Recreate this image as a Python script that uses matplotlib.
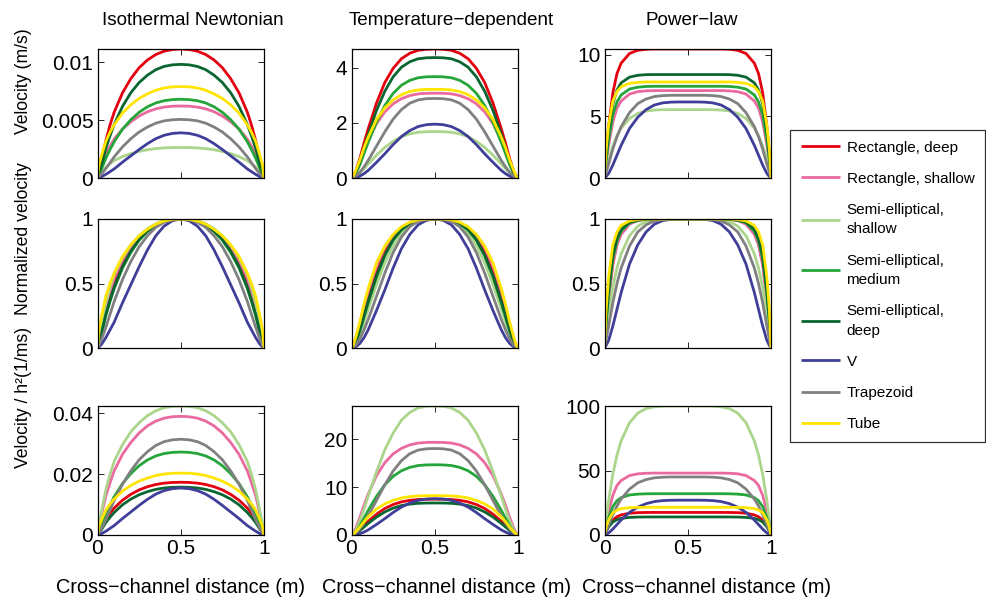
import numpy as np
import matplotlib
matplotlib.use("Agg")
import matplotlib.pyplot as plt

plt.rcParams['font.family'] = ['Liberation Sans', 'DejaVu Sans']

# channel shapes and line colours
shapes = ["Rectangle, deep", "Rectangle, shallow", "Semi-elliptical,\nshallow",
          "Semi-elliptical,\nmedium", "Semi-elliptical,\ndeep", "V", "Trapezoid", "Tube"]
colors = ["#e3000f", "#ea6a9f", "#acd58c", "#25a53a", "#0a6630", "#3f3e98", "#808080", "#ffe500"]

col_titles = ["Isothermal Newtonian", "Temperature\u2212dependent", "Power\u2212law"]
row_ylabels = ["Velocity (m/s)", "Normalized velocity", "Velocity / h\u00b2(1/ms)"]
xlabel = "Cross\u2212channel distance (m)"

# cross-channel positions, wall to centreline (profiles are symmetric)
x_half = [0, 0.01, 0.025, 0.05, 0.075, 0.1, 0.15, 0.2, 0.25, 0.3, 0.35, 0.4, 0.45, 0.5]

# normalized half-profiles, one row per shape
iso_shape = [
    [0, 0.06, 0.15, 0.29, 0.41, 0.51, 0.66, 0.77, 0.855, 0.915, 0.957, 0.983, 0.996, 1],
    [0, 0.08, 0.18, 0.33, 0.44, 0.54, 0.68, 0.78, 0.86, 0.92, 0.96, 0.985, 0.997, 1],
    [0, 0.09, 0.19, 0.35, 0.47, 0.57, 0.70, 0.80, 0.87, 0.925, 0.963, 0.987, 0.997, 1],
    [0, 0.05, 0.12, 0.25, 0.36, 0.46, 0.62, 0.74, 0.835, 0.905, 0.953, 0.982, 0.996, 1],
    [0, 0.05, 0.12, 0.26, 0.37, 0.47, 0.63, 0.75, 0.84, 0.905, 0.953, 0.982, 0.996, 1],
    [0, 0.01, 0.03, 0.08, 0.14, 0.20, 0.35, 0.49, 0.63, 0.76, 0.87, 0.945, 0.987, 1],
    [0, 0.025, 0.07, 0.16, 0.26, 0.36, 0.53, 0.67, 0.785, 0.87, 0.935, 0.975, 0.994, 1],
    [0, 0.15, 0.25, 0.40, 0.50, 0.58, 0.71, 0.80, 0.87, 0.92, 0.96, 0.985, 0.997, 1],
]
temp_shape = [
    [0, 0.015, 0.05, 0.15, 0.27, 0.38, 0.58, 0.74, 0.85, 0.925, 0.967, 0.99, 0.998, 1],
    [0, 0.02, 0.07, 0.19, 0.32, 0.44, 0.64, 0.78, 0.875, 0.935, 0.972, 0.992, 0.999, 1],
    [0, 0.008, 0.035, 0.11, 0.20, 0.30, 0.49, 0.66, 0.79, 0.89, 0.95, 0.985, 0.998, 1],
    [0, 0.01, 0.04, 0.13, 0.24, 0.35, 0.55, 0.715, 0.835, 0.915, 0.963, 0.989, 0.998, 1],
    [0, 0.01, 0.045, 0.14, 0.25, 0.36, 0.56, 0.72, 0.84, 0.92, 0.965, 0.99, 0.998, 1],
    [0, 0.002, 0.008, 0.035, 0.08, 0.14, 0.29, 0.45, 0.62, 0.77, 0.88, 0.955, 0.99, 1],
    [0, 0.005, 0.02, 0.07, 0.14, 0.22, 0.40, 0.58, 0.74, 0.86, 0.94, 0.982, 0.997, 1],
    [0, 0.02, 0.08, 0.20, 0.34, 0.46, 0.66, 0.79, 0.88, 0.94, 0.975, 0.993, 0.999, 1],
]
power_shape = [
    [0, 0.18, 0.40, 0.66, 0.81, 0.89, 0.965, 0.99, 0.998, 1, 1, 1, 1, 1],
    [0, 0.17, 0.38, 0.64, 0.80, 0.88, 0.96, 0.988, 0.997, 1, 1, 1, 1, 1],
    [0, 0.12, 0.27, 0.47, 0.62, 0.73, 0.87, 0.945, 0.98, 0.994, 0.999, 1, 1, 1],
    [0, 0.20, 0.42, 0.69, 0.83, 0.905, 0.97, 0.99, 0.998, 1, 1, 1, 1, 1],
    [0, 0.22, 0.45, 0.72, 0.85, 0.92, 0.975, 0.993, 0.999, 1, 1, 1, 1, 1],
    [0, 0.02, 0.06, 0.17, 0.30, 0.43, 0.65, 0.80, 0.90, 0.96, 0.988, 0.998, 1, 1],
    [0, 0.07, 0.17, 0.35, 0.50, 0.62, 0.79, 0.90, 0.955, 0.985, 0.996, 1, 1, 1],
    [0, 0.30, 0.55, 0.80, 0.90, 0.95, 0.985, 0.996, 1, 1, 1, 1, 1, 1],
]

# centreline velocity (m/s)
iso_peak = [0.01116, 0.00623, 0.00264, 0.00681, 0.00983, 0.00391, 0.00507, 0.00791]
temp_peak = [4.67, 3.07, 1.68, 3.67, 4.36, 1.95, 2.88, 3.21]
power_peak = [10.45, 7.08, 5.54, 7.43, 8.38, 6.16, 6.70, 7.78]

# centreline velocity / h^2 (1/ms)
iso_peak_h2 = [0.0173, 0.0389, 0.0423, 0.0272, 0.0157, 0.0154, 0.0314, 0.0203]
temp_peak_h2 = [7.5, 19.4, 27.0, 14.7, 6.7, 7.6, 18.1, 8.24]
power_peak_h2 = [17.5, 48.0, 100.0, 32.0, 14.0, 27.0, 45.0, 21.5]

xticks = [0, 0.5, 1]
xticklabels = ["0", "0.5", "1"]
yticks = [
    [[0, 0.005, 0.01], [0, 2, 4], [0, 5, 10]],
    [[0, 0.5, 1], [0, 0.5, 1], [0, 0.5, 1]],
    [[0, 0.02, 0.04], [0, 10, 20], [0, 50, 100]],
]
yticklabels = [
    [["0", "0.005", "0.01"], ["0", "2", "4"], ["0", "5", "10"]],
    [["0", "0.5", "1"], ["0", "0.5", "1"], ["0", "0.5", "1"]],
    [["0", "0.02", "0.04"], ["0", "10", "20"], ["0", "50", "100"]],
]

shape_sets = [iso_shape, temp_shape, power_shape]
peak_sets = [iso_peak, temp_peak, power_peak]
peak_h2_sets = [iso_peak_h2, temp_peak_h2, power_peak_h2]

xh = np.array(x_half)
x_full = np.concatenate([xh, 1 - xh[-2::-1]])


def full_profile(half):
    h = np.array(half, dtype=float)
    return np.concatenate([h, h[-2::-1]])


fig = plt.figure(figsize=(9.86, 6.02), dpi=100)
W, H = 986.0, 602.0
col_left = [97.5, 351.5, 604.5]
row_top = [49, 219, 406]
ax_w, ax_h = 166.5, 129

title_x = [0.572, 0.60, 0.524]
xlabel_x = [0.50, 0.57, 0.61]
ylabel_y = [0.748, 0.845, 1.07]

handles = []
for r in range(3):
    for c in range(3):
        ax = fig.add_axes([col_left[c] / W, 1 - (row_top[r] + ax_h) / H, ax_w / W, ax_h / H])
        ymax = 0
        for k in range(len(shapes)):
            prof = full_profile(shape_sets[c][k])
            if r == 0:
                y = prof * peak_sets[c][k]
            elif r == 1:
                y = prof
            else:
                y = prof * peak_h2_sets[c][k]
            ymax = max(ymax, y.max())
            ln, = ax.plot(x_full, y, color=colors[k], lw=2.0, solid_capstyle='butt',
                          solid_joinstyle='round')
            if r == 0 and c == 0:
                handles.append(ln)
        ax.set_xlim(0, 1)
        ax.set_ylim(0, ymax)
        ax.set_xticks(xticks)
        ax.set_yticks(yticks[r][c])
        ax.set_yticklabels(yticklabels[r][c])
        if r == 2:
            ax.set_xticklabels(xticklabels)
            ax.set_xlabel(xlabel, fontsize=14.3)
            ax.xaxis.label.set_va('center')
            ax.xaxis.set_label_coords(xlabel_x[c], -0.41)
        else:
            ax.set_xticklabels([])
        ax.tick_params(direction='in', top=True, right=True, length=4, width=0.6,
                       labelsize=15, pad=3)
        for s in ax.spines.values():
            s.set_linewidth(0.9)
        if r == 0:
            ax.set_title(col_titles[c], fontsize=13.6, x=title_x[c], pad=17)
        if c == 0:
            ax.set_ylabel(row_ylabels[r], fontsize=12.7)
            ax.yaxis.label.set_va('center')
            ax.yaxis.set_label_coords(-0.443, ylabel_y[r])

leg = fig.legend(handles, shapes, loc='upper left', bbox_to_anchor=(790 / W, 1 - 130 / H),
                 borderaxespad=0, frameon=True, fancybox=False, edgecolor='black',
                 fontsize=11, handlelength=2.55, handletextpad=0.45, labelspacing=1.12,
                 borderpad=0.7)
leg.get_frame().set_linewidth(0.9)
for t in leg.get_texts():
    t.set_linespacing(1.5)

fig.savefig("out.png", dpi=100)
